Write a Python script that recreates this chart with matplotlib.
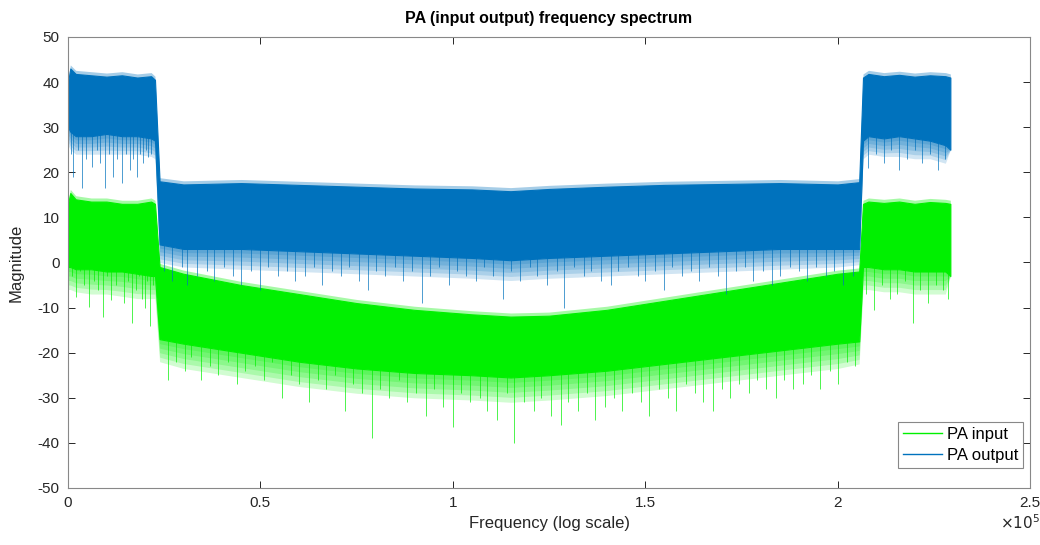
import numpy as np
import matplotlib
matplotlib.use("Agg")
import matplotlib.pyplot as plt
from matplotlib.lines import Line2D
from matplotlib.ticker import FuncFormatter

plt.rcParams['font.family'] = ['Liberation Sans', 'DejaVu Sans']
plt.rcParams['axes.unicode_minus'] = False

# envelope of the dense band (frequency in kHz, magnitude)
env_f = [0, 0.6, 2, 6, 10, 14, 18, 21.6, 22.6, 23.8, 30, 45, 60, 75, 90, 105, 115, 125,
         140, 155, 170, 185, 200, 205.6, 206.6, 208, 212, 216, 220, 224, 228, 229.3]
out_hi = [40, 43, 41.8, 41.5, 41.2, 41.5, 41, 41.3, 40.5, 18, 17.3, 17.6, 17.2, 16.8, 16.4, 16.2,
          15.8, 16.3, 16.8, 17.2, 17.4, 17.6, 17.3, 17.8, 41, 41.8, 41.3, 41.6, 41.2, 41.5, 41.3, 41]
out_lo = [30, 29, 28, 28, 28.5, 28, 28, 27.5, 27, 4, 3, 3, 2.5, 2, 1.5, 1, 0.5, 1,
          1.5, 2, 2.5, 3, 3, 3, 27, 28, 27.5, 28, 27.5, 27, 26, 25]
out_fringe = [26, 25, 24, 24, 24, 24, 24, 23.5, 23, 0, -1, -1.5, -2, -2.5, -3, -3.5, -4, -3.5,
              -3, -2.5, -2, -1.5, -1, -0.5, 23, 24, 23.5, 23.5, 23, 23, 22, 25]
in_hi = [13, 15.4, 14, 13.5, 13.5, 13, 13, 13.5, 13, -1, -2.5, -5, -7, -9, -10.5, -11.5, -12, -11.8,
         -10.5, -8.5, -6.5, -4.5, -2.5, -2, 13, 13.5, 13.2, 13.5, 13, 13.4, 13.2, 13]
in_lo = [-1, -1, -1.5, -1.5, -2, -2, -2.5, -3, -3, -17, -18, -20, -22, -23.5, -24.5, -25, -25.5, -25,
         -24, -22.5, -21, -19.5, -18, -17.5, -1, -1, -1.5, -1.5, -2, -2, -2, -3]
in_fringe = [-6, -6, -6.5, -7, -7, -7.5, -8, -8, -8, -22, -23.5, -25.5, -27.5, -29, -30, -30.5, -31,
             -30.5, -29.5, -28, -26.5, -25, -23.5, -22.5, -6, -6, -6.5, -6.5, -7, -7, -7, -3]

# deep downward spikes below the dense band (kHz, magnitude)
out_spk_f = [0.8, 1.3, 2.5, 3.6, 4.8, 6.2, 7.5, 8.4, 9.6, 10.6, 11.7, 12.8, 14.0, 15.0, 16.1, 17.0,
             17.9, 18.8, 19.5, 20.2, 20.8, 21.6,
             25, 27, 29.5, 31, 33.5, 36, 38, 40.5, 43, 45, 47.5, 50, 52, 54.5, 57, 59, 61.5, 64,
             66, 68.5, 71, 73, 75.5, 78, 80, 82.5, 85, 87, 89.5, 92, 94, 96.5, 99, 101, 103.5,
             106, 108, 110.5, 113, 115, 117.5, 120, 122, 124.5, 127, 129, 131.5, 134, 136, 138.5,
             141, 143, 145.5, 148, 150, 152.5, 155, 157, 159.5, 162, 164, 166.5, 169, 171, 173.5,
             176, 178, 180.5, 183, 185, 187.5, 190, 192, 194.5, 197, 199, 201.5, 204,
             208, 210, 212, 214, 216, 218, 220, 222, 224, 226, 228]
out_spk_v = [24, 19, 25, 16.6, 23, 21.2, 25, 22, 16.6, 24, 19, 23, 17.6, 24, 20.5, 23,
             19, 24, 22, 25, 23.4, 24,
             -2, -4, -1, -5, -3, -2, -4, -1, -3, -5, -2, -6, -1, -3, -2, -4, -3, -1,
             -5, -2, -3, -1, -4, -6, -2, -3, -1, -4, -2, -9, -3, -1, -5, -2, -3,
             -4, -1, -3, -8, -2, -4, -1, -3, -5, -2, -10, -1, -3, -2, -4,
             -5, -2, -1, -3, -4, -2, -6, -1, -3, -2, -4, -1, -3, -7, -2,
             -1, -4, -2, -5, -3, -1, -2, -4, -1, -3, -2, -5, -3,
             21, 24, 22, 25, 20.5, 23, 25, 22, 24, 20.5, 23]
in_spk_f = [1.0, 2.0, 3.1, 4.2, 5.5, 6.8, 7.9, 9.0, 10.2, 11.2, 12.4, 13.4, 14.6, 15.6, 16.7, 17.6,
            18.5, 19.2, 19.9, 20.6, 21.2, 22.0,
            26, 28, 30.5, 32, 34.5, 37, 39, 41.5, 44, 46, 48.5, 51, 53, 55.5, 58, 60, 62.5, 65,
            67, 69.5, 72, 74, 76.5, 79, 81, 83.5, 86, 88, 90.5, 93, 95, 97.5, 100, 102, 104.5,
            107, 109, 111.5, 114, 116, 118.5, 121, 123, 125.5, 128, 130, 132.5, 135, 137, 139.5,
            142, 144, 146.5, 149, 151, 153.5, 156, 158, 160.5, 163, 165, 167.5, 170, 172, 174.5,
            177, 179, 181.5, 184, 186, 188.5, 191, 193, 195.5, 198, 200, 202.5, 204.5,
            207.5, 209.5, 211.5, 213.5, 215.5, 217.5, 219.5, 221.5, 223.5, 225.5, 227.5, 228.8]
in_spk_v = [-3, -7.6, -2, -5, -9.9, -4, -6, -12, -3, -8.3, -5, -2, -9, -4, -13.4, -6,
            -3, -8, -10, -4, -14, -5,
            -26, -22, -24, -21, -26, -23, -25, -22, -27, -24, -23, -26, -22, -30, -25, -27, -31, -26,
            -28, -25, -33, -27, -29, -39, -28, -30, -26, -31, -29, -34, -28, -32, -36.5, -29, -31,
            -30, -33, -35, -29, -40, -31, -33, -30, -34, -36, -31, -33, -29, -35, -32,
            -30, -33, -29, -31, -34, -28, -30, -33, -27, -29, -31, -33, -28, -30, -27,
            -29, -26, -28, -30, -26, -28, -27, -25, -28, -24, -27, -22, -23,
            -7, -10.5, -5, -8, -7, -4, -13.5, -6, -9, -5, -6, -8]

green = '#00f000'
blue = '#0072bd'

fig = plt.figure(figsize=(10.4, 5.45), dpi=100)
ax = fig.add_axes([0.0654, 0.1046, 0.925, 0.8276])

f = np.array(env_f) * 1e3
series = [(in_hi, in_lo, in_fringe, in_spk_f, in_spk_v, green, 2),
          (out_hi, out_lo, out_fringe, out_spk_f, out_spk_v, blue, 10)]
for hi, lo, fr, spf, spv, col, z in series:
    hi, lo, fr = np.array(hi), np.array(lo), np.array(fr)
    sf = np.array(spf) * 1e3
    top = np.interp(sf, f, lo) + 2
    ax.vlines(sf, spv, top, colors=col, linewidth=0.7, alpha=0.7, zorder=z)
    # fading fringe under the solid band
    for k in range(1, 6):
        ax.fill_between(f, lo + (fr - lo) * k / 5, lo, color=col, alpha=0.18,
                        linewidth=0, zorder=z + 1)
    # thin fuzzy top edge
    ax.fill_between(f, hi, hi + 0.8, color=col, alpha=0.35, linewidth=0, zorder=z + 1)
    ax.fill_between(f, lo, hi, color=col, linewidth=0.8, edgecolor=col, zorder=z + 2)

ax.set_xlim(0, 2.5e5)
ax.set_ylim(-50, 50)
ax.set_xticks(np.arange(0, 2.51e5, 0.5e5))
ax.set_yticks(np.arange(-50, 51, 10))
ax.xaxis.set_major_formatter(FuncFormatter(lambda v, p: f'{v / 1e5:g}'))
ax.tick_params(direction='in', length=5, width=0.7, top=True, right=True,
               labelsize=11, colors='#262626', pad=6)
for s in ax.spines.values():
    s.set_color('#888888')
    s.set_linewidth(0.8)
    s.set_zorder(20)

ax.set_title('PA (input output) frequency spectrum', fontsize=11.5, fontweight='bold', pad=10)
ax.set_xlabel('Frequency (log scale)', fontsize=12, color='#262626', labelpad=4)
ax.set_ylabel('Magnitude', fontsize=12, color='#262626', labelpad=10)
ax.text(0.99, -0.076, r'$\times10^5$', transform=ax.transAxes, ha='center', va='center',
        fontsize=11, color='#262626')

handles = [Line2D([], [], color=green, lw=1), Line2D([], [], color=blue, lw=1)]
leg = ax.legend(handles, ['PA input', 'PA output'], loc='lower right',
                bbox_to_anchor=(0.9927, 0.0443), fontsize=12, borderaxespad=0,
                fancybox=False, framealpha=1, edgecolor='#888888',
                handlelength=2.3, handletextpad=0.3, borderpad=0.3, labelspacing=0.35)
leg.get_frame().set_linewidth(0.8)
leg.set_zorder(30)

fig.savefig('out.png', dpi=100)
